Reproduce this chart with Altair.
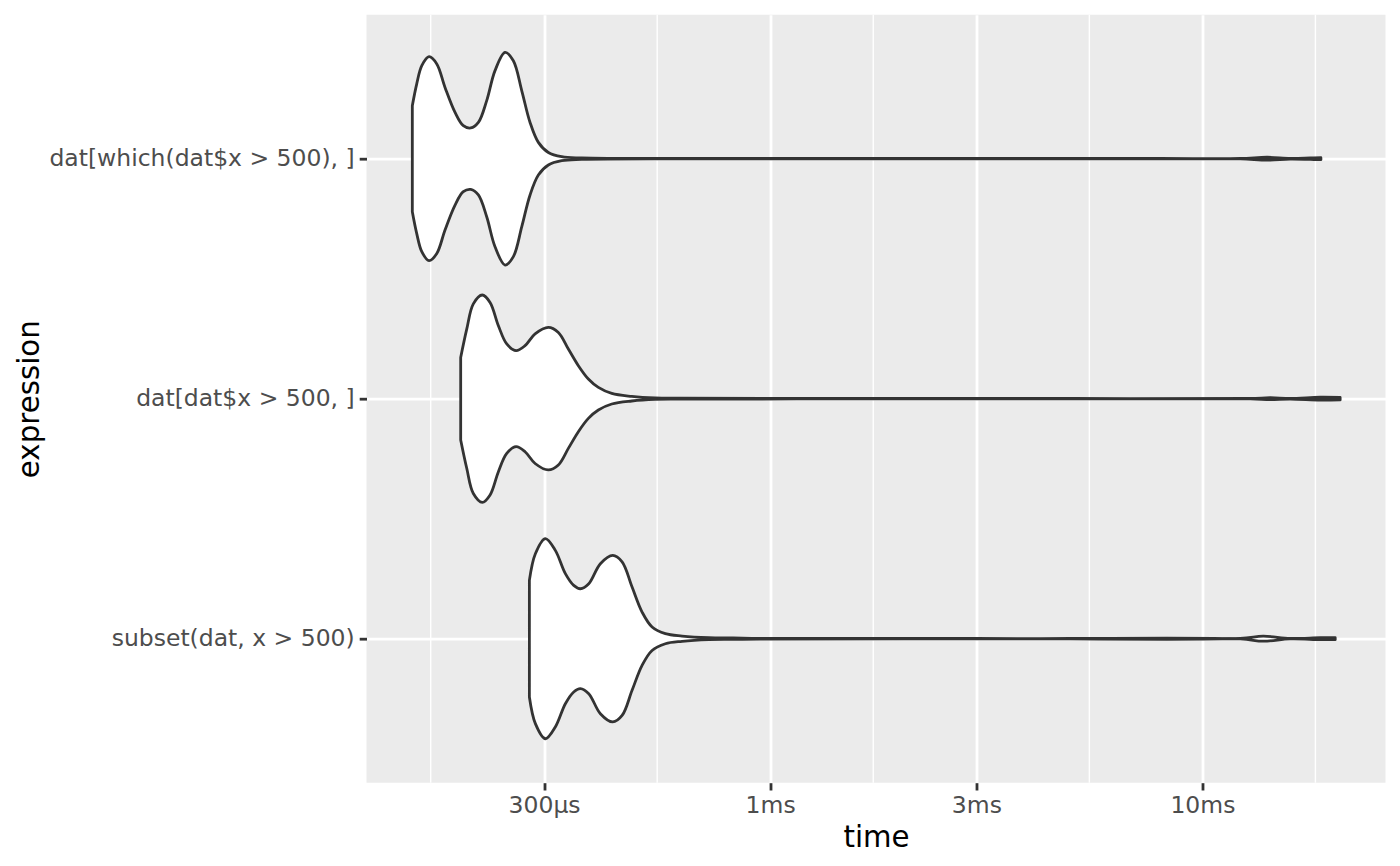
import altair as alt
import pandas as pd

expressions = ["dat[which(dat$x > 500), ]", "dat[dat$x > 500, ]", "subset(dat, x > 500)"]

# time in microseconds and violin half-width (in category units)
which_time = [148.7, 152.2, 156.4, 162.6, 169.4, 177.0, 186.7, 195.1, 203.0, 211.4, 221.0, 231.0,
              243.7, 254.7, 266.4, 278.4, 291.0, 306.9, 329.6, 366.7,
              800, 3000, 8000, 12230, 14120, 15960, 17760, 18800]
which_half = [0.221, 0.311, 0.3875, 0.425, 0.395, 0.297, 0.193, 0.1375, 0.128, 0.151, 0.242, 0.367,
              0.443, 0.408, 0.283, 0.151, 0.068, 0.026, 0.0083, 0.003,
              0.001, 0.001, 0.001, 0.001, 0.006, 0.0015, 0.003, 0.004]

logical_time = [192.4, 198.7, 205.8, 215.9, 225.0, 235.2, 245.9, 258.4, 271.1, 286.0, 306.9, 323.7,
                341.4, 360.1, 379.8, 400.6, 430.2, 478.6, 541.9, 619,
                1500, 5000, 12900, 14350, 15960, 18730, 20830]
logical_half = [0.172, 0.290, 0.395, 0.432, 0.401, 0.304, 0.228, 0.2, 0.221, 0.27, 0.297, 0.276,
                0.207, 0.1375, 0.082, 0.047, 0.022, 0.0096, 0.003, 0.002,
                0.001, 0.001, 0.001, 0.004, 0.0015, 0.006, 0.005]

subset_time = [277.4, 286.4, 302.0, 318.5, 336.0, 351.3, 364.0, 380.6, 404.9, 432.5, 454.6, 479.4,
               505.6, 533.3, 572.4, 625.8, 721.4, 821, 948,
               3000, 12230, 13830, 15960, 18730, 20290]
subset_half = [0.243, 0.354, 0.417, 0.368, 0.271, 0.222, 0.208, 0.229, 0.3125, 0.347, 0.32, 0.215,
               0.111, 0.049, 0.021, 0.011, 0.004, 0.003, 0.0013,
               0.001, 0.001, 0.0104, 0.001, 0.004, 0.004]

tick_values = [300, 1000, 3000, 10000]
tick_labels = ["300µs", "1ms", "3ms", "10ms"]
minor_breaks = [164, 548, 1732, 5477, 18257]

rows = []
for i, (times, halves) in enumerate([(which_time, which_half),
                                     (logical_time, logical_half),
                                     (subset_time, subset_half)]):
    pos = i + 1
    for t, h in zip(times, halves):
        rows.append({"expression": expressions[i], "t": t, "lo": pos - h, "hi": pos + h})
df = pd.DataFrame(rows)
grid_df = pd.DataFrame({"t": minor_breaks})

FONT = "DejaVu Sans"

x_label_expr = " : ".join(
    "datum.value == {0} ? '{1}'".format(v, l) for v, l in zip(tick_values[:-1], tick_labels[:-1])
) + " : '{0}'".format(tick_labels[-1])
y_label_expr = " : ".join(
    "datum.value == {0} ? '{1}'".format(i + 1, e) for i, e in enumerate(expressions[:-1])
) + " : '{0}'".format(expressions[-1])

common_axis = dict(grid=True, gridColor="white", gridWidth=2.8, domain=False,
                   tickColor="#333333", tickWidth=2.8, tickSize=7.3,
                   labelColor="#4D4D4D", labelFontSize=23.5, labelFont=FONT, labelLimit=600,
                   titleFont=FONT, titleFontSize=29.3, titleColor="black",
                   titleFontWeight="normal")

x_axis = alt.Axis(values=tick_values, labelExpr=x_label_expr, title="time",
                  labelPadding=4, titlePadding=6, **common_axis)
# title placed by hand: left of the widest label
y_axis = alt.Axis(values=[1, 2, 3], labelExpr=y_label_expr, title="expression",
                  labelPadding=5, titleX=-337.5, titleY=384, titleAngle=270,
                  titleBaseline="middle", **common_axis)

x_scale = alt.Scale(type="log", domain=[116.5, 26520], nice=False)
y_scale = alt.Scale(domain=[0.4, 3.6], reverse=True, nice=False, zero=False)

minor = alt.Chart(grid_df).mark_rule(color="white", strokeWidth=1.4).encode(
    x=alt.X("t:Q", scale=x_scale, axis=x_axis)
)

violins = alt.Chart(df).mark_area(
    fill="white", stroke="#333333", strokeWidth=2.8, interpolate="catmull-rom",
    strokeJoin="round", opacity=1
).encode(
    x=alt.X("t:Q", scale=x_scale, axis=x_axis),
    y=alt.Y("lo:Q", scale=y_scale, axis=y_axis),
    y2="hi:Q",
    detail="expression:N"
)

chart = alt.layer(minor, violins).properties(
    width=1019, height=768,
    autosize=alt.AutoSizeParams(type="none"),
    padding={"left": 358.5, "top": 6.7, "right": 6, "bottom": 75}
).configure(
    background="white"
).configure_view(
    fill="#EBEBEB", strokeWidth=0
)

chart.save("out.html", embed_options={"renderer": "svg", "actions": False})
